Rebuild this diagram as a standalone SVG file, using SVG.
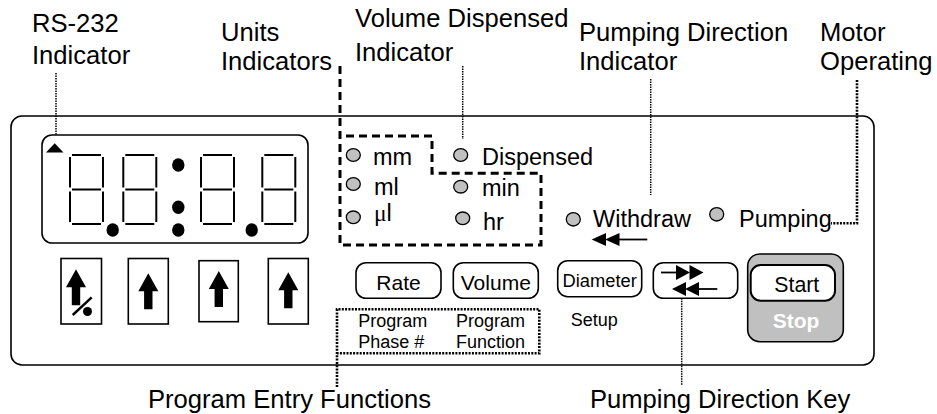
<svg xmlns="http://www.w3.org/2000/svg" width="937" height="414" viewBox="0 0 937 414">
<style>
text{font-family:"Liberation Sans",Arial,Helvetica,sans-serif;fill:#000}
.lbl{font-size:25.6px}
.lt{font-size:23.5px}
.bt{font-size:21px}
.sm{font-size:18px}
.led{fill:#c0c0c0;stroke:#000;stroke-width:1.3}
.box{fill:#fff;stroke:#000;stroke-width:1.6}
.seg{stroke:#000;stroke-width:2;fill:none}
.thin{fill:none;stroke:#000;stroke-width:1.5;stroke-dasharray:1.5 1}
.heavy{fill:none;stroke:#000;stroke-width:2.6;stroke-dasharray:2 1.3}
.dash{fill:none;stroke:#000;stroke-width:3;stroke-dasharray:8 5}
.ln{stroke:#000;stroke-width:1.8;fill:none}
</style>
<defs>
<g id="digit" class="seg">
<path d="M2,0H31M2,34.5H31M2,69H31M0,2V32.5M33,2V32.5M0,36.5V67M33,36.5V67"/>
</g>
<path id="uparrow" d="M0,0L10,18H4.2V36H-4.2V18H-10Z" fill="#000"/>
</defs>

<g id="labels">
<g id="lbl-rs232"><text class="lbl" x="32" y="32">RS-232</text><text class="lbl" x="32" y="64">Indicator</text></g>
<g id="lbl-units"><text class="lbl" x="221" y="41">Units</text><text class="lbl" x="221" y="70">Indicators</text></g>
<g id="lbl-volume"><text class="lbl" x="355" y="27">Volume Dispensed</text><text class="lbl" x="355" y="61">Indicator</text></g>
<g id="lbl-pumpdir"><text class="lbl" x="579" y="41">Pumping Direction</text><text class="lbl" x="579" y="70">Indicator</text></g>
<g id="lbl-motor"><text class="lbl" x="820" y="41">Motor</text><text class="lbl" x="820" y="70">Operating</text></g>
<g id="lbl-program"><text class="lbl" x="148" y="408">Program Entry Functions</text></g>
<g id="lbl-pumpkey"><text class="lbl" x="590" y="408">Pumping Direction Key</text></g>
</g>

<g id="panel"><rect x="11" y="116" width="863" height="249" rx="11" fill="#fff" stroke="#000" stroke-width="1.6"/></g>

<g id="display">
<rect class="box" x="42" y="135" width="266" height="108" rx="10"/>
<polygon points="46,152.5 63.5,152.5 54.7,143.3" fill="#000"/>
<use href="#digit" x="70" y="155"/>
<use href="#digit" x="123.3" y="155"/>
<use href="#digit" x="201" y="155"/>
<use href="#digit" x="262.3" y="155"/>
<ellipse cx="112.7" cy="230" rx="6.2" ry="6.7"/>
<ellipse cx="178.3" cy="165" rx="6.2" ry="6.7"/>
<ellipse cx="178.3" cy="207.3" rx="6.2" ry="6.7"/>
<ellipse cx="178.3" cy="230" rx="6.2" ry="6.7"/>
<ellipse cx="251.7" cy="230" rx="6.2" ry="6.7"/>
</g>

<g id="keys">
<g id="key1"><rect class="box" x="61" y="258.5" width="40.5" height="65.5"/><use href="#uparrow" x="76" y="269.3"/><path d="M72.7,315L91.7,297.3" stroke="#000" stroke-width="2.4"/><circle cx="87.5" cy="311.5" r="4.5"/></g>
<g id="key2"><rect class="box" x="128.3" y="258.5" width="40" height="65.5"/><use href="#uparrow" x="148.3" y="273.3"/></g>
<g id="key3"><rect class="box" x="199" y="260.7" width="39.3" height="61"/><use href="#uparrow" x="218.8" y="271"/></g>
<g id="key4"><rect class="box" x="268.3" y="258.5" width="40" height="65.5"/><use href="#uparrow" x="288.3" y="272.3"/></g>
</g>

<g id="leds">
<g id="led-mm"><ellipse class="led" cx="353.3" cy="155" rx="7" ry="6.3"/><text class="lt" x="373" y="165">mm</text></g>
<g id="led-ml"><ellipse class="led" cx="353.3" cy="184" rx="7" ry="6.3"/><text class="lt" x="374" y="195">ml</text></g>
<g id="led-ul"><ellipse class="led" cx="353.3" cy="217.3" rx="7" ry="6.3"/><text class="lt" x="374" y="221"><tspan font-family="'Liberation Serif','Times New Roman',serif">μ</tspan>l</text></g>
<g id="led-disp"><ellipse class="led" cx="460.7" cy="155" rx="7" ry="6.3"/><text class="lt" x="482" y="165">Dispensed</text></g>
<g id="led-min"><ellipse class="led" cx="460.7" cy="186.7" rx="7" ry="6.3"/><text class="lt" x="482" y="196">min</text></g>
<g id="led-hr"><ellipse class="led" cx="462.7" cy="218.3" rx="7" ry="6.3"/><text class="lt" x="483" y="230">hr</text></g>
<g id="led-withdraw"><ellipse class="led" cx="573.3" cy="219.3" rx="7" ry="6.7"/><text class="lt" x="593" y="227.3">Withdraw</text>
<polygon points="591.7,239.5 606,233 606,246"/><polygon points="605,239.5 619.5,233 619.5,246"/><path class="ln" d="M619,239.5H647.3"/></g>
<g id="led-pumping"><ellipse class="led" cx="716.7" cy="214.3" rx="7" ry="6.7"/><text class="lt" x="739" y="227.3">Pumping</text></g>
</g>

<g id="buttons">
<g id="btn-rate"><rect class="box" x="356" y="262.7" width="85" height="35.6" rx="10"/><text class="bt" x="398.5" y="290" text-anchor="middle">Rate</text></g>
<g id="btn-volume"><rect class="box" x="453.3" y="262.7" width="85" height="35.6" rx="10"/><text class="bt" x="495.8" y="290" text-anchor="middle">Volume</text></g>
<g id="btn-diameter"><rect class="box" x="557.7" y="260.7" width="84" height="36" rx="10"/><text x="599.7" y="287.3" font-size="18.3" text-anchor="middle">Diameter</text></g>
<g id="btn-direction"><rect class="box" x="653.3" y="262.7" width="84.4" height="35.6" rx="10"/>
<path class="ln" d="M661,272.5H677"/><polygon points="676,265 690,272.5 676,280"/><polygon points="689.5,265 703.5,272.5 689.5,280"/>
<polygon points="672,289 686,282 686,296"/><polygon points="685,289 699,282 699,296"/><path class="ln" d="M698,289H717.3"/></g>
<g id="btn-startstop"><rect x="747.7" y="254" width="95.6" height="87.7" rx="12" fill="#c0c0c0" stroke="#000" stroke-width="1.6"/>
<rect x="750.7" y="265" width="84.3" height="35.7" rx="10" fill="#fff" stroke="#000" stroke-width="2"/>
<text x="796.8" y="291.7" font-size="21.3" text-anchor="middle">Start</text>
<text x="796" y="328.3" font-size="21" font-weight="bold" text-anchor="middle" style="fill:#fff">Stop</text></g>
<g id="sublabels">
<text class="sm" x="358.3" y="327.3">Program</text><text class="sm" x="358.3" y="348.3">Phase #</text>
<text class="sm" x="456" y="327.3">Program</text><text class="sm" x="456" y="348.3">Function</text>
<text class="sm" x="570.7" y="326">Setup</text>
</g>
</g>

<g id="connectors">
<path class="thin" d="M56,73V135"/>
<path class="dash" d="M340,66V245H541V173.3H432V136H340"/>
<path class="thin" d="M462.7,66V139"/>
<path class="thin" d="M650.7,79V195"/>
<path class="heavy" d="M857,80V223.3H831"/>
<path class="heavy" d="M337,387V309.3H539.3V353.3H337"/>
<path class="thin" d="M681.7,298.3V385"/>
</g>
</svg>
